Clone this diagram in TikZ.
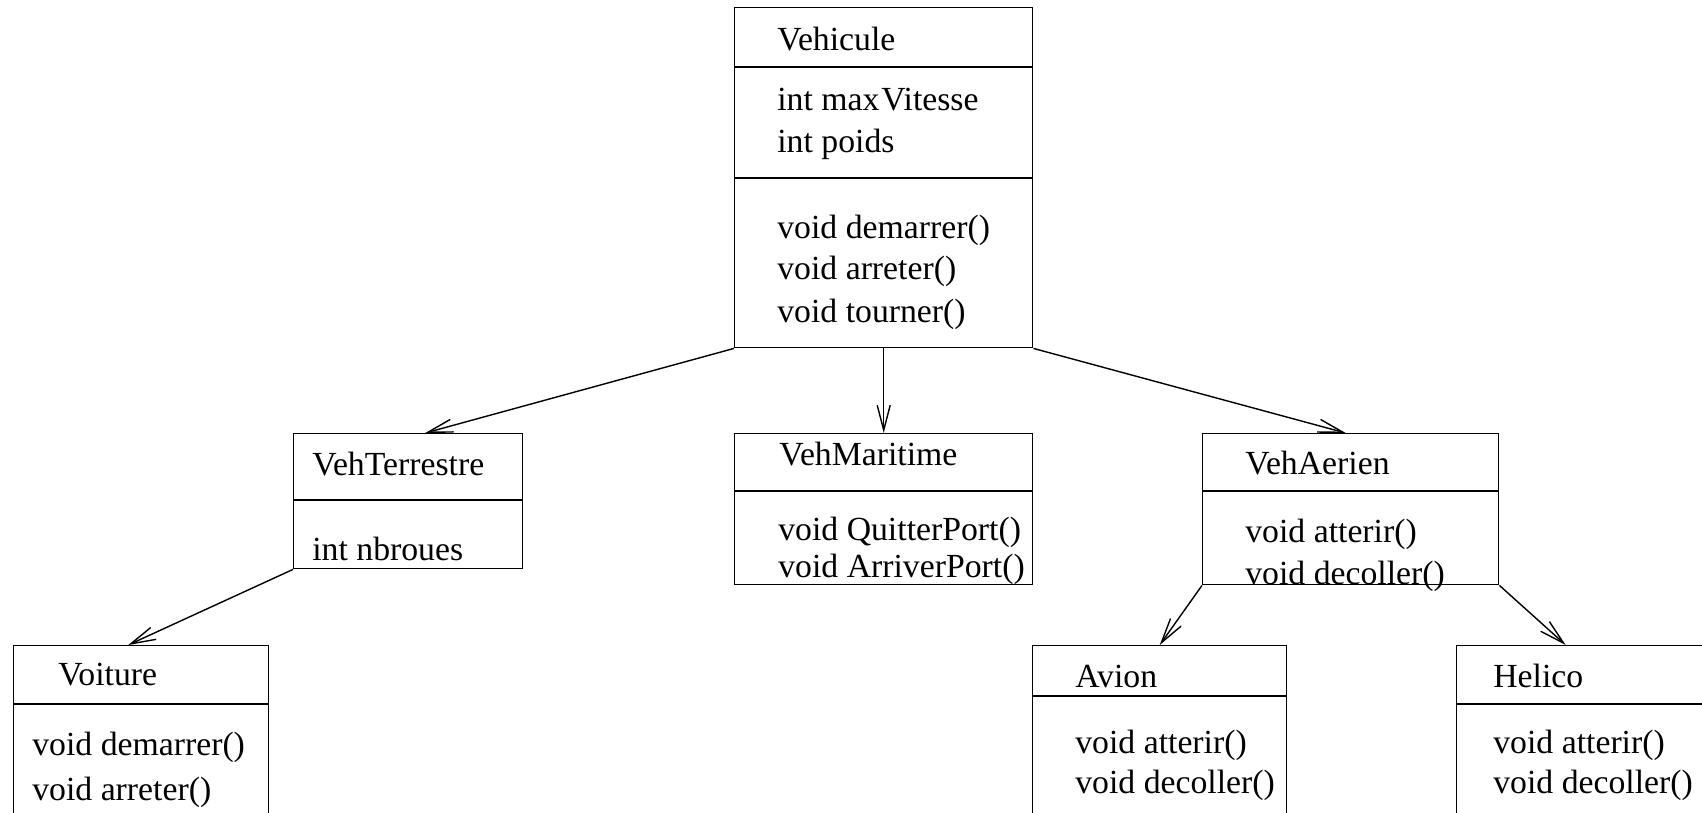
\documentclass[tikz,border=0pt]{standalone}
\usepackage{fontspec}
\setmainfont{Liberation Serif}
\usetikzlibrary{
  positioning,
  calc,
  arrows.meta
}

\tikzset{
  classe/.style 2 args={draw, line width=0.8pt, anchor=north west, inner sep=0pt,
    minimum width=#1*0.02cm, minimum height=#2*0.02cm},
  membre/.style={anchor=base west, inner sep=0pt, font=\fontsize{19.2}{22}\selectfont},
  herite/.style={-{Straight Barb[length=0.5cm, width=0.26cm, line width=0.8pt]}, line width=0.8pt}
}

\begin{document}
\begin{tikzpicture}[x=0.02cm, y=-0.02cm]
      \clip (0,0) rectangle (1702,812);

      % Boites des classes
      \node[classe={298}{340}] (vehicule) at (734,7) {};
      \node[classe={229}{135}] (terrestre) at (293,433) {};
      \node[classe={298}{151}] (maritime) at (734,433) {};
      \node[classe={296}{151}] (aerien) at (1202,433) {};
      \node[classe={255}{220}] (voiture) at (13,645) {};
      \node[classe={254}{220}] (avion) at (1032,645) {};
      \node[classe={254}{220}] (helico) at (1456,645) {};

      % Separations
      \foreach \n/\d in {vehicule/60, vehicule/171, terrestre/67, maritime/58,
                         aerien/58, voiture/59, avion/51, helico/59} {
        \draw[line width=0.8pt] ($(\n.north west)+(0,\d)$) -- ($(\n.north east)+(0,\d)$);
      }

      % Vehicule
      \node[membre] (vehNom) at (777,50) {Vehicule};
      \node[membre] (vehAttA) at (777,110) {int max\kern1pt Vitesse};
      \node[membre] (vehAttB) at (777,152) {int poids};
      \node[membre] (vehOpA) at (777,238) {void demarrer()};
      \node[membre] (vehOpB) at (777,279) {void arreter()};
      \node[membre] (vehOpC) at (777,322) {void tourner()};

      % VehTerrestre
      \node[membre] (terNom) at (312,475) {VehTerrestre};
      \node[membre] (terAtt) at (312,560) {int nbroues};

      % VehMaritime
      \node[membre] (marNom) at (779,465) {VehMaritime};
      \node[membre] (marOpA) at (778,540) {void QuitterPort()};
      \node[membre] (marOpB) at (778,577) {void ArriverPort()};

      % VehAerien
      \node[membre] (aerNom) at (1245,474) {VehAerien};
      \node[membre] (aerOpA) at (1245,542) {void atterir()};
      \node[membre] (aerOpB) at (1245,584) {void decoller()};

      % Voiture
      \node[membre] (voiNom) at (58,685) {Voiture};
      \node[membre] (voiOpA) at (32,755) {void demarrer()};
      \node[membre] (voiOpB) at (32,800) {void arreter()};

      % Avion
      \node[membre] (aviNom) at (1075,687) {Avion};
      \node[membre] (aviOpA) at (1075,753) {void atterir()};
      \node[membre] (aviOpB) at (1075,793) {void decoller()};

      % Helico
      \node[membre] (helNom) at (1493,687) {Helico};
      \node[membre] (helOpA) at (1493,753) {void atterir()};
      \node[membre] (helOpB) at (1493,793) {void decoller()};

      % Heritage
      \draw[herite] (vehicule.south west) -- ($(terrestre.north)+(17,0)$);
      \draw[herite] (vehicule.south) -- (maritime.north);
      \draw[herite] (vehicule.south east) -- ($(aerien.north)+(-5,0)$);
      \draw[herite] (terrestre.south west) -- ($(voiture.north)+(-13,0)$);
      \draw[herite] (aerien.south west) -- (avion.north);
      \draw[herite] (aerien.south east) -- ($(helico.north)+(-18,0)$);
    \end{tikzpicture}
\end{document}
